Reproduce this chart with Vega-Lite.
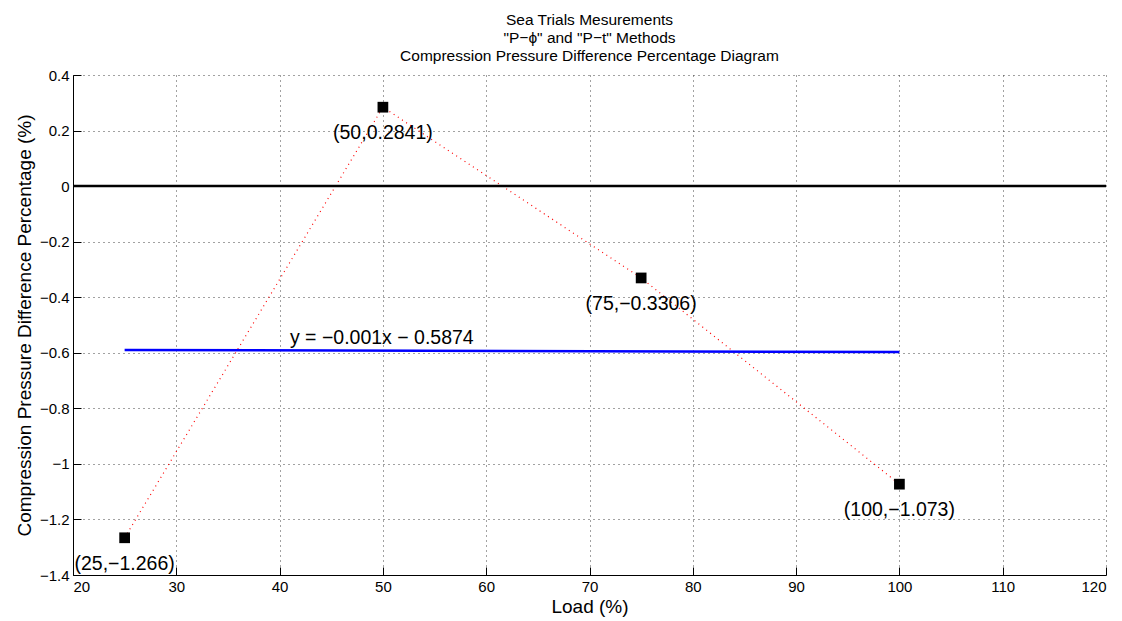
{
  "$schema": "https://vega.github.io/schema/vega-lite/v6.json",
  "width": 1033,
  "height": 500,
  "autosize": {"type": "none"},
  "padding": {"left": 73, "top": 75, "right": 16, "bottom": 46},
  "background": "white",
  "title": {
    "text": ["Sea Trials Mesurements", "\"P−ϕ\" and \"P−t\" Methods", "Compression Pressure Difference Percentage Diagram"],
    "font": "Liberation Sans",
    "fontSize": 15.5,
    "fontWeight": "normal",
    "color": "black",
    "lineHeight": 18,
    "offset": 4,
    "anchor": "middle"
  },
  "config": {
    "view": {"stroke": null},
    "font": "Liberation Sans",
    "axis": {
      "domainColor": "black",
      "domainWidth": 1,
      "tickColor": "black",
      "tickSize": -8,
      "labelPadding": 12,
      "labelFont": "Liberation Sans",
      "labelFontSize": 15,
      "labelColor": "black",
      "titleFont": "Liberation Sans",
      "titleFontSize": 19,
      "titleFontWeight": "normal",
      "titleColor": "black",
      "grid": true,
      "gridColor": "#444",
      "gridDash": [1, 4],
      "gridWidth": 1
    }
  },
  "datasets": {
    "points": [
      {"load": 25, "diff": -1.266, "label": "(25,−1.266)"},
      {"load": 50, "diff": 0.2841, "label": "(50,0.2841)"},
      {"load": 75, "diff": -0.3306, "label": "(75,−0.3306)"},
      {"load": 100, "diff": -1.073, "label": "(100,−1.073)"}
    ],
    "fit": [
      {"load": 25, "diff": -0.5899},
      {"load": 100, "diff": -0.5974}
    ],
    "note": [
      {"load": 41, "diff": -0.545, "label": "y = −0.001x − 0.5874"}
    ]
  },
  "layer": [
    {
      "data": {"name": "points"},
      "mark": {"type": "line", "color": "#ff0000", "strokeDash": [1, 4], "strokeWidth": 1.2},
      "encoding": {
        "x": {
          "field": "load", "type": "quantitative",
          "scale": {"domain": [20, 120], "nice": false, "zero": false},
          "axis": {"title": "Load (%)", "values": [20, 30, 40, 50, 60, 70, 80, 90, 100, 110, 120], "titlePadding": 3}
        },
        "y": {
          "field": "diff", "type": "quantitative",
          "scale": {"domain": [-1.4, 0.4], "nice": false, "zero": false},
          "axis": {"title": "Compression Pressure Difference Percentage (%)", "values": [-1.4, -1.2, -1, -0.8, -0.6, -0.4, -0.2, 0, 0.2, 0.4], "format": ".2~f", "titlePadding": 5}
        }
      }
    },
    {
      "data": {"values": [{"zero": 0}]},
      "mark": {"type": "rule", "color": "black", "strokeWidth": 2.5},
      "encoding": {"y": {"field": "zero", "type": "quantitative"}}
    },
    {
      "data": {"name": "fit"},
      "mark": {"type": "line", "color": "#0000ff", "strokeWidth": 2.5},
      "encoding": {
        "x": {"field": "load", "type": "quantitative"},
        "y": {"field": "diff", "type": "quantitative"}
      }
    },
    {
      "data": {"name": "points"},
      "mark": {"type": "square", "color": "black", "filled": true, "opacity": 1, "size": 115},
      "encoding": {
        "x": {"field": "load", "type": "quantitative"},
        "y": {"field": "diff", "type": "quantitative"}
      }
    },
    {
      "data": {"name": "points"},
      "mark": {"type": "text", "color": "black", "fontSize": 19.5, "align": "center", "baseline": "middle", "dy": 26},
      "encoding": {
        "x": {"field": "load", "type": "quantitative"},
        "y": {"field": "diff", "type": "quantitative"},
        "text": {"field": "label"}
      }
    },
    {
      "data": {"name": "note"},
      "mark": {"type": "text", "color": "black", "fontSize": 19.5, "align": "left", "baseline": "middle"},
      "encoding": {
        "x": {"field": "load", "type": "quantitative"},
        "y": {"field": "diff", "type": "quantitative"},
        "text": {"field": "label"}
      }
    }
  ]
}
